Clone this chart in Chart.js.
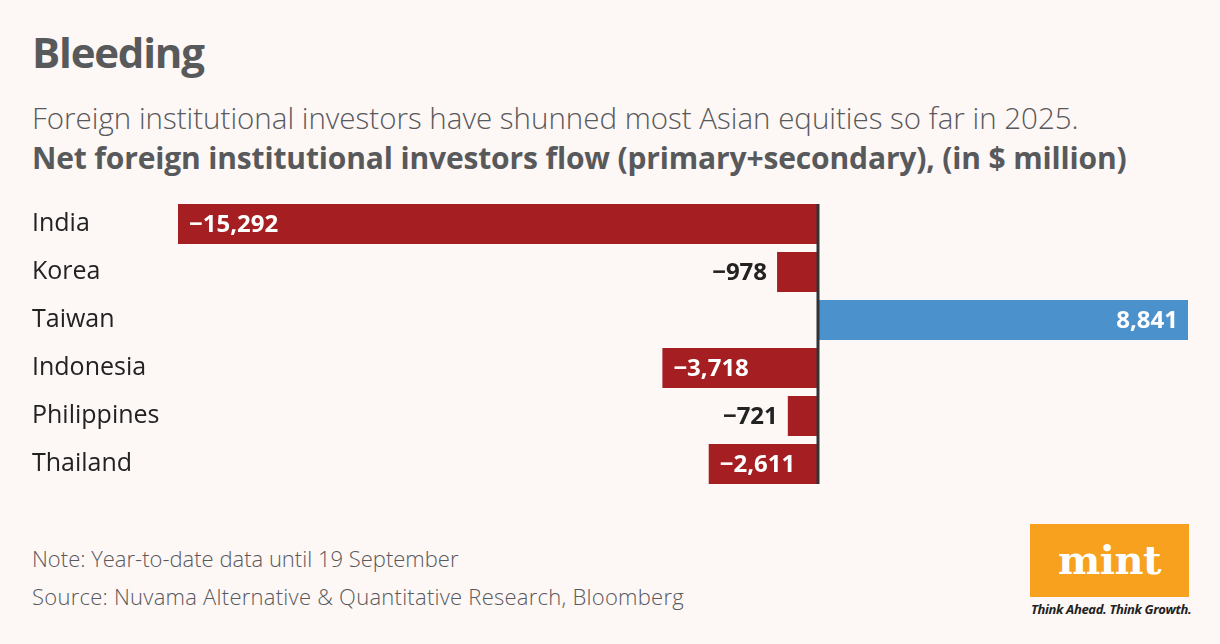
<!DOCTYPE html>
<html>
<head>
<meta charset="utf-8">
<script src="https://cdn.jsdelivr.net/npm/chart.js@4.4.1/dist/chart.umd.min.js"></script>
<style>
  html, body { margin: 0; padding: 0; }
  body {
    width: 1220px; height: 644px; position: relative; overflow: hidden;
    background: #fdf7f6; font-family: "Open Sans", sans-serif;
  }
  .t { position: absolute; left: 32px; line-height: 1; white-space: nowrap; }
  #title { top: 31px; font-size: 42px; font-weight: 700; color: #58595b; letter-spacing: -1.2px; }
  #sub { top: 103px; font-size: 29.5px; font-weight: 300; color: #58595b; }
  #sub2 { top: 143px; font-size: 30px; font-weight: 700; color: #58595b; letter-spacing: -0.15px; }
  #note { top: 547px; font-size: 22px; font-weight: 300; color: #58595b; }
  #src { top: 585px; font-size: 22px; font-weight: 300; color: #58595b; letter-spacing: 0.25px; }
  #chartBox { position: absolute; left: 0; top: 200px; width: 1220px; height: 288px; }
  #logo {
    position: absolute; left: 1030px; top: 524px; width: 159px; height: 73px;
    background: #f7a11e; color: #fff; text-align: center;
    font-family: "DejaVu Serif", serif; font-weight: 700; font-size: 40px; line-height: 72px;
    letter-spacing: -0.5px;
  }
  #tag {
    position: absolute; left: 1031px; top: 600px; width: 160px; white-space: nowrap;
    font-size: 13px; font-weight: 700; font-style: italic; color: #222; letter-spacing: -0.35px;
  }
</style>
</head>
<body>
<div id="title" class="t">Bleeding</div>
<div id="sub" class="t">Foreign institutional investors have shunned most Asian equities so far in 2025.</div>
<div id="sub2" class="t">Net foreign institutional investors flow (primary+secondary), (in $ million)</div>
<div id="chartBox"><canvas id="chart"></canvas></div>
<div id="note" class="t">Note: Year-to-date data until 19 September</div>
<div id="src" class="t">Source: Nuvama Alternative &amp; Quantitative Research, Bloomberg</div>
<div id="logo">mint</div>
<div id="tag">Think Ahead. Think Growth.</div>

<script>
const countries = ["India", "Korea", "Taiwan", "Indonesia", "Philippines", "Thailand"];
const flows = [-15292, -978, 8841, -3718, -721, -2611];

const RED = "#a51e22";
const BLUE = "#4b92cd";

function fmt(v) {
  const s = Math.abs(v).toLocaleString("en-US");
  return v < 0 ? "\u2212" + s : s;
}

// zero line drawn over the bars
const zeroLine = {
  id: "zeroLine",
  afterDatasetsDraw(chart) {
    const { ctx, scales } = chart;
    const x = scales.x.getPixelForValue(0);
    const bars = chart.getDatasetMeta(0).data;
    const top = bars[0].y - bars[0].height / 2;
    const bottom = bars[bars.length - 1].y + bars[bars.length - 1].height / 2;
    ctx.save();
    ctx.strokeStyle = "#333333";
    ctx.lineWidth = 3;
    ctx.beginPath();
    ctx.moveTo(x, top);
    ctx.lineTo(x, bottom);
    ctx.stroke();
    ctx.restore();
  }
};

// value labels: inside the bar if it fits, otherwise outside
const valueLabels = {
  id: "valueLabels",
  afterDatasetsDraw(chart) {
    const { ctx } = chart;
    const meta = chart.getDatasetMeta(0);
    ctx.save();
    ctx.font = "700 24px 'Open Sans', sans-serif";
    ctx.textBaseline = "middle";
    meta.data.forEach((bar, i) => {
      const v = flows[i];
      const txt = fmt(v);
      const tw = ctx.measureText(txt).width;
      const w = Math.abs(bar.x - bar.base);
      if (w > tw + 24) {
        ctx.fillStyle = "#ffffff";
        if (v < 0) {
          ctx.textAlign = "left";
          ctx.fillText(txt, bar.x + 11, bar.y + 1);
        } else {
          ctx.textAlign = "right";
          ctx.fillText(txt, bar.x - 10, bar.y + 1);
        }
      } else {
        ctx.fillStyle = "#222222";
        if (v < 0) {
          ctx.textAlign = "right";
          ctx.fillText(txt, bar.x - 10, bar.y + 1);
        } else {
          ctx.textAlign = "left";
          ctx.fillText(txt, bar.x + 10, bar.y + 1);
        }
      }
    });
    ctx.restore();
  }
};

new Chart(document.getElementById("chart"), {
  type: "bar",
  data: {
    labels: countries,
    datasets: [{
      data: flows,
      backgroundColor: flows.map(v => v < 0 ? RED : BLUE),
      barPercentage: 40 / 48,
      categoryPercentage: 1,
      borderWidth: 0
    }]
  },
  options: {
    indexAxis: "y",
    responsive: true,
    maintainAspectRatio: false,
    animation: false,
    layout: { padding: { left: 32, right: 32, top: 0, bottom: 0 } },
    plugins: { legend: { display: false }, tooltip: { enabled: false } },
    scales: {
      x: {
        display: false,
        min: -15292,
        max: 8841
      },
      y: {
        grid: { display: false },
        border: { display: false },
        afterFit(scale) {
          scale.width = 146;
          // no extra room for the first/last label
          scale.paddingTop = 0;
          scale.paddingBottom = 0;
        },
        ticks: {
          crossAlign: "far",
          color: "#222222",
          font: { family: "'Open Sans', sans-serif", size: 25, weight: 400 }
        }
      }
    }
  },
  plugins: [zeroLine, valueLabels]
});
</script>
</body>
</html>
